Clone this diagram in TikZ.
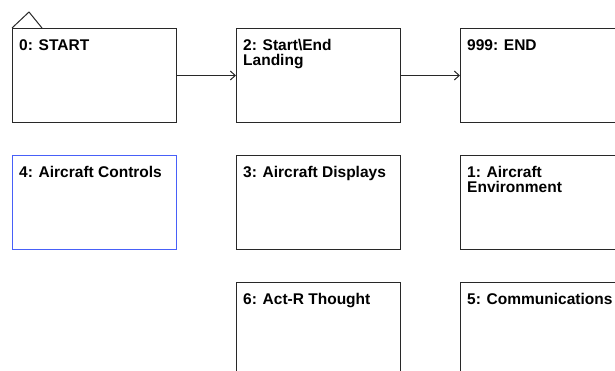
\documentclass[tikz,border=0pt]{standalone}
\usepackage{fontspec}
\setmainfont{Liberation Sans}
\usetikzlibrary{arrows.meta}
\definecolor{mydark}{RGB}{40,40,40}
\definecolor{myblue}{RGB}{72,96,248}
\tikzset{
  state/.style={rectangle, draw=mydark, fill=white,
    minimum width=164pt, minimum height=94pt,
    anchor=north west, inner sep=0pt, line width=1pt},
  selstate/.style={state, draw=myblue},
  caption/.style={anchor=north west, inner sep=0pt,
    xshift=7pt, yshift=-11pt, align=left, text=black,
    font=\fontsize{15.5}{15}\selectfont\bfseries},
  arrow/.style={-{Straight Barb[length=5pt, width=9pt, line width=1pt]},
    line width=1pt, color=mydark}
}

\begin{document}
\begin{tikzpicture}[x=1pt, y=-1pt]
  \useasboundingbox (0,0) rectangle (615,371);
  \clip (0,0) rectangle (615,371);

  % Top row
  \node[state, label={[caption]north west:{0: START}}] (start) at (12,28) {};
  \node[state, label={[caption]north west:{2: Start\textbackslash End\\Landing}}] (landing) at (236,28) {};
  \node[state, label={[caption]north west:{999: END}}] (finish) at (460,28) {};

  % initial marker
  \draw[line width=1pt, color=mydark] (start.north west) -- ++(17,-16) -- ++(13,16);

  % Middle row
  \node[selstate, label={[caption]north west:{4: Aircraft Controls}}] (controls) at (12,155) {};
  \node[state, label={[caption]north west:{3: Aircraft Displays}}] (displays) at (236,155) {};
  \node[state, label={[caption]north west:{1: Aircraft\\Environment}}] (environ) at (460,155) {};

  % Bottom row
  \node[state, label={[caption]north west:{6: Act-R Thought}}] (thought) at (236,282) {};
  \node[state, label={[caption]north west:{5: Communications}}] (comms) at (460,282) {};

  \draw[arrow] (start.east) -- (landing.west);
  \draw[arrow] (landing.east) -- (finish.west);
\end{tikzpicture}
\end{document}
